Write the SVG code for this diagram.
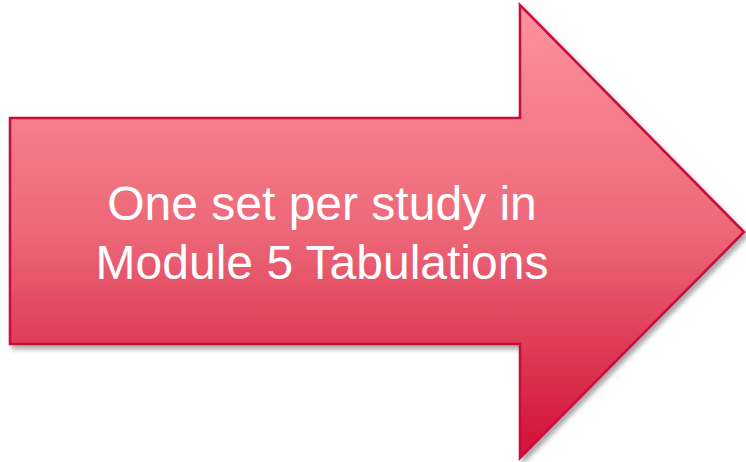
<svg xmlns="http://www.w3.org/2000/svg" width="746" height="462" viewBox="0 0 746 462">
<defs>
<linearGradient id="g" x1="0" y1="0" x2="0" y2="1">
<stop offset="0" stop-color="#ff929e"/>
<stop offset="0.5" stop-color="#ec6878"/>
<stop offset="1" stop-color="#d20f37"/>
</linearGradient>
<filter id="sh" x="-10%" y="-10%" width="120%" height="120%">
<feGaussianBlur in="SourceAlpha" stdDeviation="2.5"/>
<feOffset dx="3" dy="4" result="b"/>
<feComponentTransfer><feFuncA type="linear" slope="0.35"/></feComponentTransfer>
<feMerge><feMergeNode/><feMergeNode in="SourceGraphic"/></feMerge>
</filter>
<style>
.t{font-family:"Liberation Sans",Arial,sans-serif;font-size:48px;fill:#ffffff;text-anchor:middle}
</style>
</defs>
<g id="arrow">
<path d="M10,118 L520,118 L520,5 L744,232 L520,458 L520,344 L10,344 Z" fill="url(#g)" stroke="#c70f3a" stroke-width="2.5" stroke-linejoin="miter" filter="url(#sh)"/>
<text class="t" x="322" y="220">One set per study in</text>
<text class="t" x="322" y="279">Module 5 Tabulations</text>
</g>
</svg>
